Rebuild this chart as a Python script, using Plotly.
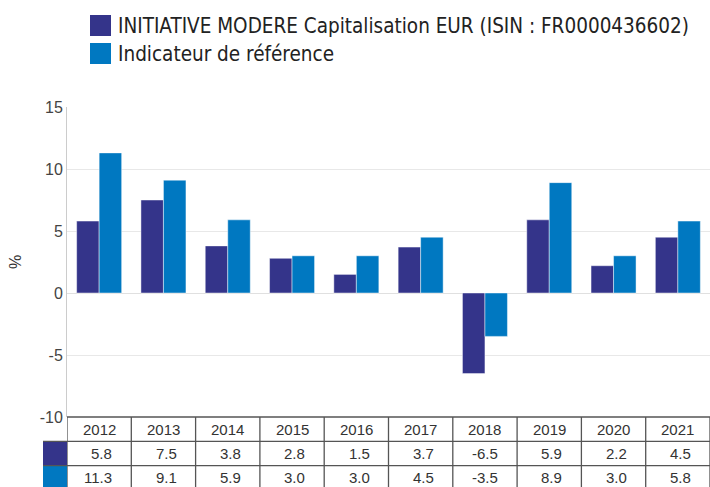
import plotly.graph_objects as go

years = ["2012", "2013", "2014", "2015", "2016", "2017", "2018", "2019", "2020", "2021"]
fund_name = "INITIATIVE MODERE Capitalisation EUR (ISIN : FR0000436602)"
bench_name = "Indicateur de référence"
fund_values = [5.8, 7.5, 3.8, 2.8, 1.5, 3.7, -6.5, 5.9, 2.2, 4.5]
bench_values = [11.3, 9.1, 5.9, 3.0, 3.0, 4.5, -3.5, 8.9, 3.0, 5.8]
y_ticks = [-10, -5, 0, 5, 10, 15]

series = [(fund_name, fund_values, "#34348a"), (bench_name, bench_values, "#0078c1")]

W, H = 710, 487
ML, MR, MT, MB = 67, 0, 107, 70
PW, PH = W - ML - MR, H - MT - MB
n = len(years)
colw = PW / n

fig = go.Figure()
for name, vals, col in series:
    fig.add_trace(go.Bar(
        x=list(range(n)), y=vals, name=name,
        marker=dict(color=col, line=dict(color="rgba(255,255,255,0.45)", width=1)),
        showlegend=False,
    ))

shapes = []
annotations = []
def py(px):  # pixel below top of table -> paper y
    return -(px) / PH

row_h = 24.3
table_line = dict(color="#555555", width=1.3)
for r, (name, vals, col) in enumerate(series):
    shapes.append(dict(type="rect", xref="paper", yref="paper",
                       x0=-24 / PW, x1=0, y0=py(row_h * (r + 2)), y1=py(row_h * (r + 1)),
                       fillcolor=col, line=dict(width=0), layer="above"))
for r in range(3):
    shapes.append(dict(type="line", xref="paper", yref="paper",
                       x0=0 if r == 0 else -24 / PW, x1=1, y0=py(row_h * r), y1=py(row_h * r),
                       line=table_line))
for i in range(n + 1):
    shapes.append(dict(type="line", xref="x", yref="paper",
                       x0=i - 0.5, x1=i - 0.5, y0=py(row_h * 3.2), y1=0, line=table_line))

for i, yr in enumerate(years):
    annotations.append(dict(x=i, y=py(row_h * 0.5), xref="x", yref="paper", text=yr,
                            showarrow=False, xanchor="center", yanchor="middle",
                            font=dict(size=15, color="#333333")))
    for r, (name, vals, col) in enumerate(series):
        annotations.append(dict(x=i + 0.5 - 17 / colw, y=py(row_h * (r + 1.5)), xref="x", yref="paper",
                                text=f"{vals[i]:.1f}", showarrow=False, xanchor="right", yanchor="middle",
                                font=dict(size=15, color="#333333")))

for r, (name, vals, col) in enumerate(series):
    top = 15 + 28 * r
    shapes.append(dict(type="rect", xref="paper", yref="paper",
                       x0=(90 - ML) / PW, x1=(111 - ML) / PW,
                       y0=1 + (MT - top - 21) / PH, y1=1 + (MT - top) / PH,
                       fillcolor=col, line=dict(width=0)))
    annotations.append(dict(x=(116 - ML) / PW, y=1 + (MT - top - 11) / PH, xref="paper", yref="paper",
                            text=name, showarrow=False, xanchor="left", yanchor="middle",
                            font=dict(size=20.5, color="#222222",
                                      family="DejaVu Sans Condensed, Roboto, sans-serif")))

fig.update_layout(
    width=W, height=H,
    margin=dict(l=ML, r=MR, t=MT, b=MB, pad=0),
    paper_bgcolor="white", plot_bgcolor="white",
    barmode="group", bargap=0.3, bargroupgap=0.0,
    font=dict(family="Liberation Sans, Arial, sans-serif", size=15, color="#444444"),
    xaxis=dict(range=[-0.5, n - 0.5], showticklabels=False, showgrid=False, zeroline=False,
               showline=False, ticks=""),
    yaxis=dict(range=[-10, 15], tickvals=y_ticks, ticktext=[str(v) for v in y_ticks],
               showgrid=True, gridcolor="#e8e8e8",
               zeroline=True, zerolinecolor="#e0e0e0", zerolinewidth=1,
               showline=True, linecolor="#cccccc", linewidth=1,
               ticks="", tickfont=dict(size=16, color="#444444"),
               title=dict(text="%", font=dict(size=16, color="#333333"), standoff=14)),
    shapes=shapes, annotations=annotations,
)

fig.write_html("out.html", config={"displayModeBar": False},
               post_script="document.body.style.margin='0';document.body.style.overflow='hidden';")
